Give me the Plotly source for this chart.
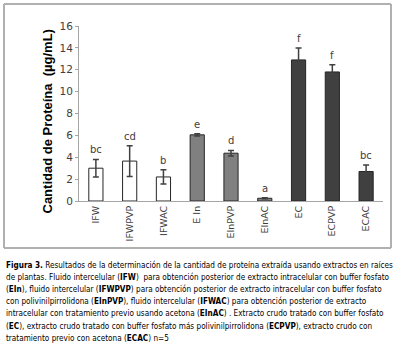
import plotly.graph_objects as go

categories = ["IFW", "IFWPVP", "IFWAC", "E In", "EInPVP", "EInAC", "EC", "ECPVP", "ECAC"]
values = [3.0, 3.65, 2.2, 6.05, 4.37, 0.25, 12.9, 11.8, 2.7]
errors = [0.8, 1.4, 0.65, 0.1, 0.25, 0.05, 1.1, 0.65, 0.6]
letters = ["bc", "cd", "b", "e", "d", "a", "f", "f", "bc"]
colors = ["#ffffff"] * 3 + ["#808080"] * 3 + ["#404040"] * 3

caption_lines = [
    "<b>Figura 3.</b> Resultados de la determinación de la cantidad de proteína extraída usando extractos en raíces",
    "de plantas. Fluido intercelular (<b>IFW</b>)  para obtención posterior de extracto intracelular con buffer fosfato",
    "(<b>EIn</b>), fluido intercelular (<b>IFWPVP</b>) para obtención posterior de extracto intracelular con buffer fosfato",
    "con polivinilpirrolidona (<b>EInPVP</b>), fluido intercelular (<b>IFWAC</b>) para obtención posterior de extracto",
    "intracelular con tratamiento previo usando acetona (<b>EInAC</b>) . Extracto crudo tratado con buffer fosfato",
    "(<b>EC</b>), extracto crudo tratado con buffer fosfato más polivinilpirrolidona (<b>ECPVP</b>), extracto crudo con",
    "tratamiento previo con acetona (<b>ECAC</b>) n=5",
]

L, R, T, B = 79, 383, 26, 201
W, H = 396, 346


def px(x):
    return (x - L) / (R - L)


def py(y):
    return (B - y) / (B - T)


fig = go.Figure()
fig.add_trace(go.Bar(
    x=categories, y=values, width=0.42,
    marker=dict(color=colors, line=dict(color="#262626", width=1)),
    error_y=dict(type="data", array=errors, visible=True, color="#404040", thickness=1.5, width=3),
    showlegend=False,
))

for c, v, e, t in zip(categories, values, errors, letters):
    fig.add_annotation(x=c, y=v + e, text=t, showarrow=False, yanchor="bottom", yshift=2,
                       font=dict(size=10, color="#404040", family="DejaVu Sans"))

fig.add_annotation(xref="paper", yref="paper", x=px(37), y=py(122), text="<b>Cantidad de Proteína  (µg/mL)</b>",
                   textangle=-90, showarrow=False, font=dict(size=13, color="#000000", family="Liberation Sans"))

cap_font = "DejaVu Sans Condensed, Liberation Sans Narrow, sans-serif"
for i, line in enumerate(caption_lines):
    fig.add_annotation(xref="paper", yref="paper", x=px(4), y=py(265 + i * 12.1), text=line,
                       xanchor="left", yanchor="middle", showarrow=False,
                       font=dict(size=8.15, color="#000000", family=cap_font))

border = dict(color="#b0b0b0", width=2)
for (xa, ya, xb, yb) in [(4, 4, 391, 4), (4, 248, 391, 248), (4, 4, 4, 248), (391, 4, 391, 248)]:
    fig.add_shape(type="line", xref="paper", yref="paper", x0=px(xa), y0=py(ya), x1=px(xb), y1=py(yb),
                  line=border, layer="above")

fig.update_layout(
    width=W, height=H,
    margin=dict(l=L, r=W - R, t=T, b=H - B, pad=0),
    paper_bgcolor="white", plot_bgcolor="white",
    bargap=0.58,
    xaxis=dict(tickangle=-90, showline=True, linecolor="#a6a6a6", linewidth=1, ticks="",
               tickfont=dict(size=9.5, color="#404040", family="DejaVu Sans"), showgrid=False, zeroline=False),
    yaxis=dict(range=[0, 16], dtick=2, showline=True, linecolor="#a6a6a6", linewidth=1, ticks="outside",
               ticklen=3, tickcolor="#a6a6a6", tickfont=dict(size=10.5, color="#404040", family="DejaVu Sans"),
               showgrid=False, zeroline=False),
)

fig.write_html("out.html", config={"displayModeBar": False},
               post_script="document.body.style.margin='0';document.body.style.overflow='hidden';")
